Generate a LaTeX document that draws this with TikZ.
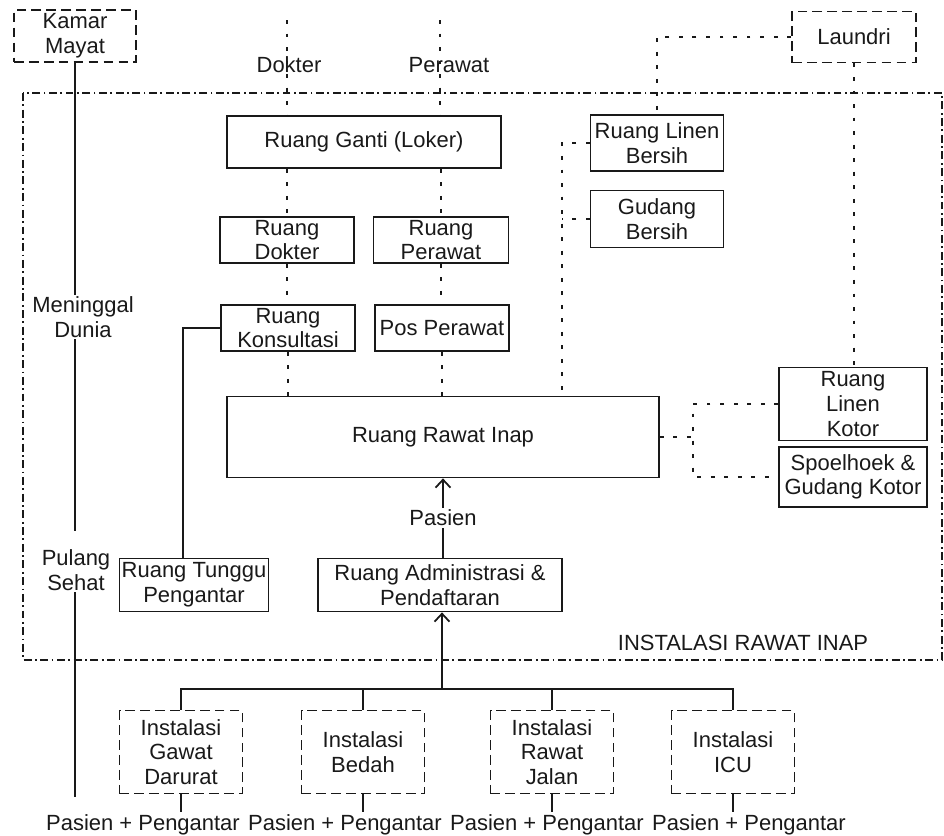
\documentclass[tikz,border=0pt]{standalone}
\usepackage{fontspec}
\setmainfont{Liberation Sans}
\usetikzlibrary{arrows.meta}

\begin{document}
\begin{tikzpicture}[x=0.2mm, y=-0.2mm, >={Straight Barb[length=1.6mm, width=3mm]},
  font=\fontsize{12.5}{14}\selectfont, black!90,
  room/.style={draw, line width=1pt, align=center, inner sep=0pt},
  ext/.style={room, line width=1.1pt, dash pattern=on 5.5pt off 3pt},
  link/.style={line width=1.3pt, dash pattern=on 2.2pt off 5.5pt},
  flow/.style={line width=1pt},
  frame/.style={line width=1pt, dash pattern=on 4.5pt off 2pt on 1pt off 2pt},
  lbl/.style={align=center, inner sep=1pt}]
\useasboundingbox (0,0) rectangle (944,835);
% instalasi boundary
\draw[frame] (23,93) rectangle (942,660);
\node[lbl] (irna) at (743,643) {INSTALASI RAWAT INAP};

% outside rooms
\node[ext, minimum width=24.4mm, minimum height=10.4mm] (kamar) at (75,36) {Kamar\\Mayat};
\node[ext, minimum width=24.8mm, minimum height=10.2mm] (laundri) at (854,37) {Laundri};

% staff side
\node[room, minimum width=54.8mm, minimum height=10.4mm] (ganti) at (364,142) {Ruang Ganti (Loker)};
\node[room, minimum width=26.8mm, minimum height=9.2mm] (rdokter) at (287,240) {Ruang\\Dokter};
\node[room, minimum width=27mm, minimum height=9.2mm] (rperawat) at (441,240) {Ruang\\Perawat};
\node[room, minimum width=26.8mm, minimum height=9.2mm] (konsul) at (288,328) {Ruang\\Konsultasi};
\node[room, minimum width=26.8mm, minimum height=9.2mm] (pos) at (442,328) {Pos Perawat};
\node[room, minimum width=86.4mm, minimum height=16.2mm] (inap) at (443,437) {Ruang Rawat Inap};

% linen side
\node[room, minimum width=26.6mm, minimum height=11.2mm] (lbersih) at (657,143) {Ruang Linen\\Bersih};
\node[room, minimum width=26.6mm, minimum height=11.4mm] (gbersih) at (657,219) {Gudang\\Bersih};
\node[room, minimum width=29.6mm, minimum height=14.6mm] (lkotor) at (853,404) {Ruang\\Linen\\Kotor};
\node[room, minimum width=29.6mm, minimum height=12mm] (spoel) at (853,477) {Spoelhoek \&\\Gudang Kotor};

% entry side
\node[room, minimum width=29.8mm, minimum height=10.6mm] (tunggu) at (194,585) {Ruang Tunggu\\Pengantar};
\node[room, minimum width=48.8mm, minimum height=10.6mm] (admin) at (440,585) {Ruang Administrasi \&\\Pendaftaran};
\node[ext, minimum width=24.6mm, minimum height=16.6mm] (gawat) at (181,752) {Instalasi\\Gawat\\Darurat};
\node[ext, minimum width=24.6mm, minimum height=16.6mm] (bedah) at (363,752) {Instalasi\\Bedah};
\node[ext, minimum width=24.6mm, minimum height=16.6mm] (jalan) at (552,752) {Instalasi\\Rawat\\Jalan};
\node[ext, minimum width=24.6mm, minimum height=16.6mm] (icu) at (733,752) {Instalasi\\ICU};
\node[lbl, anchor=base] (pp1) at (143,830) {Pasien + Pengantar};
\node[lbl, anchor=base] (pp2) at (345,830) {Pasien + Pengantar};
\node[lbl, anchor=base] (pp3) at (547,830) {Pasien + Pengantar};
\node[lbl, anchor=base] (pp4) at (749,830) {Pasien + Pengantar};

% dotted links
\coordinate (dtop) at (287,20);
\coordinate (ptop) at (440,20);
\node[lbl] (ldokter) at (289,65) {Dokter};
\node[lbl] (lperawat) at (449,65) {Perawat};
\draw[link] (dtop) -- (dtop |- ganti.north);
\draw[link] (ptop) -- (ptop |- ganti.north);
\draw[link] (rdokter.north |- ganti.south) -- (rdokter.north);
\draw[link] (rperawat.north |- ganti.south) -- (rperawat.north);
\draw[link] (rdokter.south) -- (rdokter.south |- konsul.north);
\draw[link] (rperawat.south) -- (rperawat.south |- pos.north);
\draw[link] (konsul.south) -- (konsul.south |- inap.north);
\draw[link] (pos.south) -- (pos.south |- inap.north);
\coordinate (bx) at (562,143);
\coordinate (kx) at (693,437);
\draw[link] (laundri.west) -| (lbersih.north);
\draw[link] (lbersih.west) -| (inap.north -| bx);
\draw[link] (gbersih.west) -- (gbersih.west -| bx);
\draw[link] (laundri.south) -- (laundri.south |- lkotor.north);
\draw[link] (inap.east) -- (kx);
\draw[link] (lkotor.west) -| (kx |- spoel.west) -- (spoel.west);

% solid flows
\node[lbl] (pulang) at (76,570) {Pulang\\Sehat};
\coordinate (pend) at (75,797);
\draw[flow, shorten >=3.4mm] (kamar.south) -- (kamar.south |- pulang.north);
\node[lbl, fill=white] (meninggal) at (83,317) {Meninggal\\Dunia};
\draw[flow] (pulang.south -| pend) -- (pend);
\coordinate (tk) at (183,559);
\draw[flow] (konsul.west) -| (tk);
\draw[flow, ->] (admin.north -| inap.south) -- node[lbl, fill=white] (pasien) {Pasien} (inap.south);
\coordinate (bus) at (442,689);
\draw[flow, ->] (bus) -- (bus |- admin.south);
\draw[flow] (gawat.north) |- (icu.north |- bus) -- (icu.north);
\draw[flow] (bedah.north) -- (bedah.north |- bus);
\draw[flow] (jalan.north) -- (jalan.north |- bus);
\draw[flow] (gawat.south) -- (gawat.south |- pp1.north);
\draw[flow] (bedah.south) -- (bedah.south |- pp2.north);
\draw[flow] (jalan.south) -- (jalan.south |- pp3.north);
\draw[flow] (icu.south) -- (icu.south |- pp4.north);
\end{tikzpicture}
\end{document}
